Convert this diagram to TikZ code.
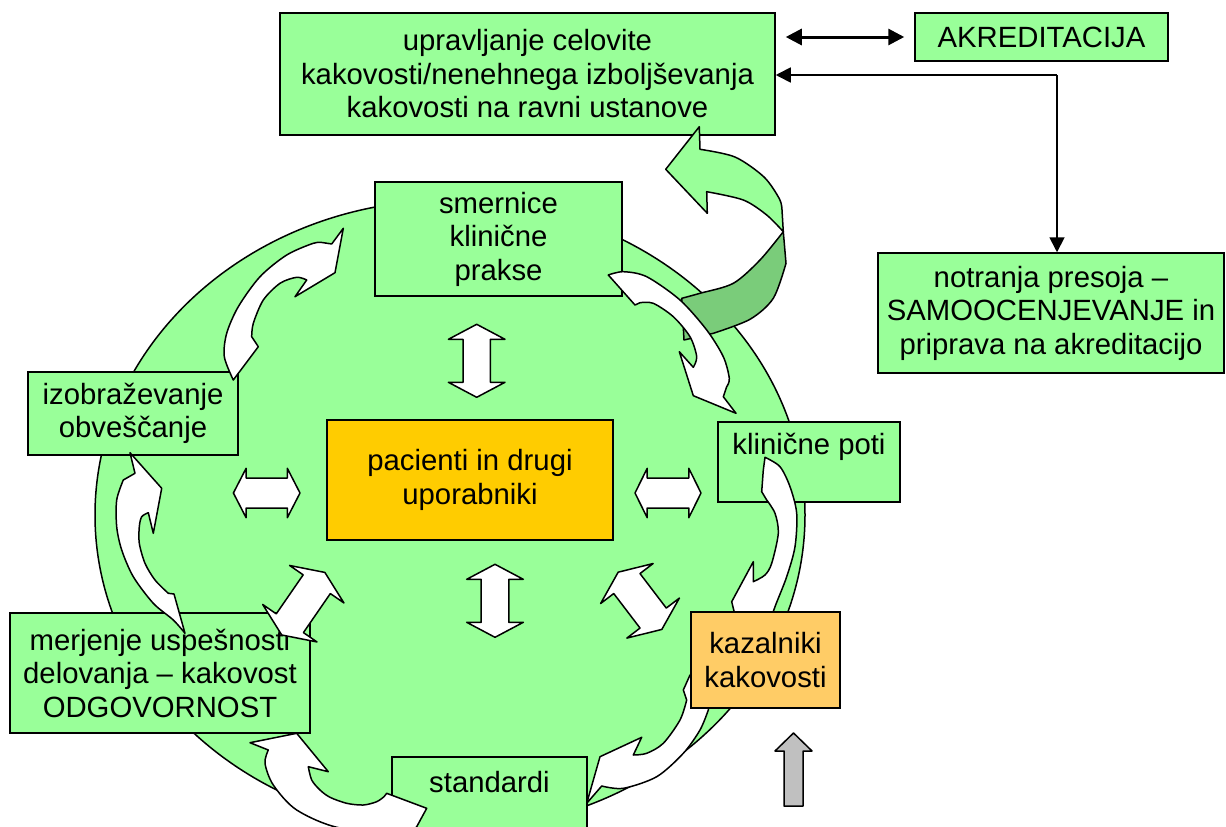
\documentclass[tikz,border=0pt]{standalone}
\usepackage{fontspec}
\setmainfont{Liberation Sans}
\usetikzlibrary{arrows.meta}
\definecolor{lgreen}{HTML}{99FF99}
\definecolor{dgreen}{HTML}{7ACC7A}
\definecolor{goldc}{HTML}{FFCC00}
\definecolor{lorange}{HTML}{FFCC66}
\definecolor{grayarr}{HTML}{C0C0C0}
\newcommand\bigfont{\fontsize{29.3}{33.5}\selectfont}
% center, angle, half length, head length, head half width, shaft half width
\newcommand\dblarr[6]{%
  \draw[warrow, shift={#1}, rotate=#2]
    (-#3,0) -- ({-#3+#4},#5) -- ({-#3+#4},#6) -- ({#3-#4},#6) -- ({#3-#4},#5) -- (#3,0)
    -- ({#3-#4},-#5) -- ({#3-#4},-#6) -- ({-#3+#4},-#6) -- ({-#3+#4},-#5) -- cycle;}
\tikzset{
  box/.style={draw=black, line width=1.5pt, fill=lgreen, inner sep=0pt, align=center, font=\bigfont},
  txt/.style={inner sep=0pt, align=center, font=\bigfont},
  warrow/.style={draw=black, line width=1.5pt, fill=white, line join=round},
  garrow/.style={draw=black, line width=1.5pt, line join=round},
}
\begin{document}
\begin{tikzpicture}[x=1pt, y=-1pt]
\useasboundingbox (0,0) rectangle (1226,827);
\clip (0,0) rectangle (1226,827);

% big circle
\draw[fill=lgreen, line width=1.5pt] (450,515) ellipse [x radius=355pt, y radius=315pt];

% boxes (below arrows)
\node[box, minimum width=495pt, minimum height=122pt] (top) at (527.5,74)
  {upravljanje celovite\\kakovosti/nenehnega izboljševanja\\kakovosti na ravni ustanove};
\node[box, minimum width=253pt, minimum height=48pt] (akr) at (1041.5,37) {AKREDITACIJA};
\node[box, minimum width=346pt, minimum height=120pt] (notr) at (1051,313)
  {notranja presoja –\\SAMOOCENJEVANJE in\\priprava na akreditacijo};
\node[box, minimum width=247pt, minimum height=114pt] (smer) at (498.5,239)
  {smernice\\klinične\\prakse};
\node[box, minimum width=210pt, minimum height=83pt] (izob) at (133,413.5)
  {izobraževanje\\obveščanje};
\node[box, minimum width=182pt, minimum height=80pt] (klin) at (809,462) {};
\node[txt] (klintxt) at (809,447) {klinične poti};
\node[box, fill=goldc, minimum width=286pt, minimum height=120pt] (pac) at (470,480)
  {pacienti in drugi\\uporabniki};
\node[box, minimum width=300pt, minimum height=120pt] (merj) at (160,673)
  {merjenje uspešnosti\\delovanja – kakovost\\ODGOVORNOST};
\node[box, minimum width=195pt, minimum height=86pt] (std) at (489.5,800) {};
\node[txt] (stdtxt) at (489.5,782) {standardi};

% big green curved arrow (3D ribbon)
\draw[garrow, fill=dgreen] (783.3,231.7) -- (786,263.3)
  -- plot[smooth] coordinates {(786,263.3) (773.3,298.3) (750,319.3) (713.3,333.3)}
  -- (684,340) -- (681.7,298.3)
  -- plot[smooth] coordinates {(681.7,298.3) (700,293.3) (733.3,283.3) (760,260) (783.3,231.7)}
  -- cycle;
\draw[garrow, fill=lgreen] (665.7,169.3) -- (699.3,126.7) -- (700,149.3)
  -- plot[smooth] coordinates {(700,149.3) (735,157) (764,177) (779.5,199) (782,210)}
  -- (783.3,231.7)
  -- plot[smooth] coordinates {(783.3,231.7) (766.7,215) (743.3,200) (706.7,191.7)}
  -- (707.3,213.3) -- cycle;

% white curved arrows around the circle
% A: izobrazevanje -> smernice
\draw[warrow] plot[smooth] coordinates {(233.3,380) (224.3,356.7) (226.7,333.3) (238.3,306.7) (260,276.7) (286.7,255) (313.3,243.3) (323.3,242.7)}
  -- (331.7,244) -- (343.3,228.3) -- (335,272.7) -- (295,296.7) -- (306.7,280)
  -- plot[smooth] coordinates {(306.7,280) (296.7,277.3) (280,283.3) (263.3,300) (253.3,323.3) (251.7,336.7)}
  -- (258.3,346.7) -- cycle;
% B: merjenje -> izobrazevanje
\draw[warrow] (130,452.7) -- (161.7,488.3) -- (153.3,533.3) -- (148.3,512.7)
  -- plot[smooth] coordinates {(148.3,512.7) (141.7,516.7) (139.3,526.7) (139.3,543.3) (145,563.3) (155,580) (168.3,593.3)}
  -- (174,594) -- (185,633.3)
  -- plot[smooth] coordinates {(185,633.3) (173.3,620) (153.3,603.3) (133.3,576.7) (121.7,550) (116.7,526.7) (116.7,500) (123.3,480)}
  -- (135,473.3) -- cycle;
% C: standardi -> merjenje
\draw[warrow] (250,742.7) -- (296.7,733.3) -- (328.3,771.7) -- (308.3,766.7)
  -- plot[smooth] coordinates {(308.3,766.7) (311.7,780) (320,790) (330,797.3) (346.7,803.3) (363.3,805) (376.7,801.7) (384,796.7)}
  -- (386.7,793.3) -- (426.7,808.3) -- (416.7,826.7) -- (410,833)
  -- plot[smooth] coordinates {(410,833) (340,828) (296.7,810) (273.3,785) (265,763.3) (268.3,750)}
  -- cycle;
% D: kazalniki -> standardi
\draw[warrow] (690,675) -- (683.3,690) -- (686.7,700)
  -- plot[smooth] coordinates {(686.7,700) (680,720) (663.3,743.3) (646.7,753.3) (633.3,755)}
  -- (641.7,737.3) -- (600,756.7) -- (586.7,803.3) -- (601.7,786)
  -- plot[smooth] coordinates {(601.7,786) (623.3,788.3) (656.7,776.7) (683.3,753.3) (700,730) (708.3,710)}
  -- (712,675) -- cycle;
% E: klinicne poti -> kazalniki
\draw[warrow] plot[smooth] coordinates {(765,457.3) (780,466.7) (790,486.7) (796.7,513.3) (795,546.7) (786.7,576.7) (775,606.7) (769,625)}
  -- (736.7,622) -- (731.7,601.7) -- (753.3,561.7) -- (753.3,581.7)
  -- plot[smooth] coordinates {(753.3,581.7) (765,575) (771.7,563.3) (778.3,533.3) (775,513.3) (766.7,500)}
  -- (761.7,491.7) -- (763.3,470) -- cycle;
% F: smernice -> klinicne poti
\draw[warrow] plot[smooth] coordinates {(608.3,275) (623.3,271.7) (646.7,276.7) (680,300) (706.7,330) (723.3,356.7) (729.3,378.3) (726.7,386.7)}
  -- (723.3,396.7) -- (736,413.3) -- (693.3,395.7) -- (679.3,351.7) -- (693.3,367.3)
  -- plot[smooth] coordinates {(693.3,367.3) (696.7,356.7) (690,336.7) (673.3,316.7) (653.3,303.3) (640,302.7)}
  -- (635,305) -- cycle;

% double block arrows around the centre
\dblarr{(476.7,360.8)}{90}{36.5}{15}{28.3}{13.7}
\dblarr{(495,600.8)}{90}{36.5}{15}{28.3}{13.8}
\dblarr{(266.7,493)}{0}{33.3}{12.7}{24.7}{15}
\dblarr{(668,493)}{0}{33}{12.2}{24.7}{15}
\dblarr{(303.3,603.7)}{55.4}{38}{14.3}{33}{16.5}
\dblarr{(640,600.8)}{-52.7}{36}{14.3}{33}{16.5}

% kazalniki box on top
\node[box, fill=lorange, minimum width=149pt, minimum height=96pt] (kaz) at (765.5,660)
  {kazalniki\\kakovosti};

% gray arrow
\draw[line width=1.5pt, fill=grayarr, line join=round] (784,806) -- (784,751) -- (775,751) -- (793.5,733) -- (812,751) -- (803,751) -- (803,806) -- cycle;

% black connectors
\draw[line width=3pt, {Triangle[length=16pt,width=16pt]}-{Triangle[length=16pt,width=16pt]}, shorten <=10pt, shorten >=10pt]
  (akr.west -| top.east) -- (akr.west);
\coordinate (corner) at (1057,75);
\draw[line width=1.8pt, -{Triangle[length=15pt,width=15pt]}] (corner) -- (corner -| top.east);
\draw[line width=1.8pt, -{Triangle[length=15pt,width=15pt]}] (corner) -- (corner |- notr.north);
\end{tikzpicture}
\end{document}
